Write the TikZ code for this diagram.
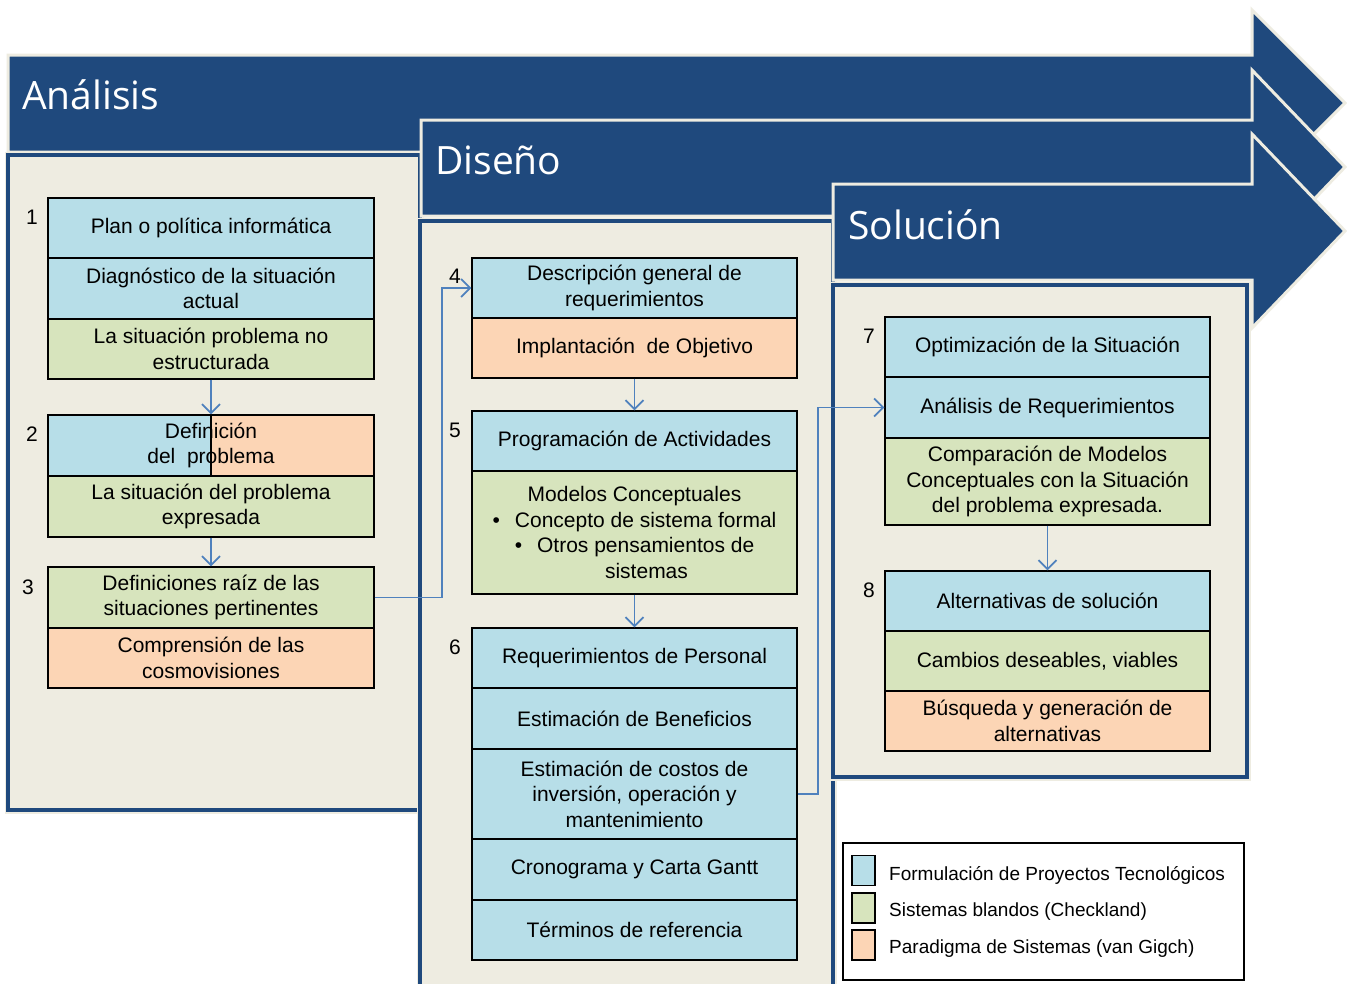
\documentclass[tikz,border=0pt]{standalone}
\usepackage{fontspec}
\setmainfont{Liberation Sans}
\newfontfamily\titlefont{Open Sans}
\usetikzlibrary{arrows.meta}
\definecolor{dblue}{HTML}{1F497D}
\definecolor{cbg}{HTML}{EEECE1}
\definecolor{cblue}{HTML}{B7DEE8}
\definecolor{cgreen}{HTML}{D7E4BD}
\definecolor{corange}{HTML}{FCD5B5}
\definecolor{cline}{HTML}{4F81BD}
\begin{document}
\begin{tikzpicture}[x=1pt,y=-1pt,
 chev/.style={fill=dblue, draw=cbg, line width=3pt, line join=miter},
 panel/.style={fill=cbg, draw=dblue, line width=3.5pt, preaction={draw=cbg, line width=7pt}},
 ttl/.style={anchor=west, inner sep=0, text=white, font=\titlefont\fontsize{39}{46}\selectfont},
 cell/.style={draw=black, line width=1.4pt, inner sep=0, align=center, font=\fontsize{21}{25.5}\selectfont},
 wA/.style={cell, minimum width=326pt},
 wB/.style={cell, minimum width=325pt},
 num/.style={inner sep=0, font=\fontsize{21}{24}\selectfont},
 conn/.style={draw=cline, line width=1.8pt, -{Straight Barb[length=9pt,width=18pt,line width=1.8pt]}},
 leg/.style={anchor=west, inner sep=0, font=\fontsize{19}{22}\selectfont},
 sw/.style={draw=black, line width=1.4pt, minimum width=23pt, minimum height=30pt, inner sep=0}
]
\useasboundingbox (0,0) rectangle (1347,983);
\fill[white] (0,0) rectangle (1347,983);

% phase arrows and panels
\draw[chev] (8,55) -- (1252,55) -- (1252,10) -- (1345,103) -- (1252,196) -- (1252,152) -- (8,152) -- cycle;
\node[ttl] (tA) at (22,95) {Análisis};
\draw[panel] (8,155) rectangle (420,810);

\draw[chev] (421,120) -- (1252,120) -- (1252,70) -- (1345,167) -- (1252,264) -- (1252,216) -- (421,216) -- cycle;
\node[ttl] (tD) at (435,160) {Diseño};
\draw[panel] (420,221) rectangle (833,1000);

\draw[chev] (833,184) -- (1252,184) -- (1252,134) -- (1345,231) -- (1252,328) -- (1252,280) -- (833,280) -- cycle;
\node[ttl] (tS) at (848,225) {Solución};
\draw[panel] (833,285) rectangle (1247,777);

% panel 1
\node[wA, fill=cblue, minimum height=60pt] (b1a) at (211,228) {Plan o política informática};
\node[wA, fill=cblue, minimum height=61pt] (b1b) at (211,288.5) {Diagnóstico de la situación\\actual};
\node[wA, fill=cgreen, minimum height=60pt] (b1c) at (211,349) {La situación problema no\\estructurada};

\fill[cblue] (48,415) rectangle (211,476);
\fill[corange] (211,415) rectangle (374,476);
\node[wA, minimum height=61pt] (b2a) at (211,445.5) {Definición\\del\ \ problema};
\draw[black, line width=1.4pt] (b2a.north) -- (b2a.south);
\node[wA, fill=cgreen, minimum height=61pt] (b2b) at (211,506.5) {La situación del problema\\expresada};

\node[wA, fill=cgreen, minimum height=61pt] (b3a) at (211,597.5) {Definiciones raíz de las\\situaciones pertinentes};
\node[wA, fill=corange, minimum height=60pt] (b3b) at (211,658) {Comprensión de las\\cosmovisiones};

\node[num] (n1) at (32,217) {1};
\node[num] (n2) at (32,434) {2};
\node[num] (n3) at (28,587) {3};

% panel 2
\node[wB, fill=cblue, minimum height=60pt] (b4a) at (634.5,288) {Descripción general de\\requerimientos};
\node[wB, fill=corange, minimum height=60pt] (b4b) at (634.5,348) {Implantación\ \ de Objetivo};
\node[wB, fill=cblue, minimum height=60pt] (b5a) at (634.5,441) {Programación de Actividades};
\node[wB, fill=cgreen, minimum height=123pt] (b5b) at (634.5,532.5) {Modelos Conceptuales\\
 •\hspace{15pt}Concepto de sistema formal\\
 •\hspace{15pt}Otros pensamientos de\\
 \hspace*{24pt}sistemas};
\node[wB, fill=cblue, minimum height=60pt] (b6a) at (634.5,658) {Requerimientos de Personal};
\node[wB, fill=cblue, minimum height=61pt] (b6b) at (634.5,718.5) {Estimación de Beneficios};
\node[wB, fill=cblue, minimum height=90pt] (b6c) at (634.5,794) {Estimación de costos de\\inversión, operación y\\mantenimiento};
\node[wB, fill=cblue, minimum height=61pt] (b6d) at (634.5,869.5) {Cronograma y Carta Gantt};
\node[wB, fill=cblue, minimum height=60pt] (b6e) at (634.5,930) {Términos de referencia};

\node[num] (n4) at (455,276) {4};
\node[num] (n5) at (455,430) {5};
\node[num] (n6) at (455,647) {6};

% panel 3
\node[wB, fill=cblue, minimum height=60pt] (b7a) at (1047.5,347) {Optimización de la Situación};
\node[wB, fill=cblue, minimum height=61pt] (b7b) at (1047.5,407.5) {Análisis de Requerimientos};
\node[wB, fill=cgreen, minimum height=87pt] (b7c) at (1047.5,481.5) {Comparación de Modelos\\Conceptuales con la Situación\\del problema expresada.};
\node[wB, fill=cblue, minimum height=60pt] (b8a) at (1047.5,601) {Alternativas de solución};
\node[wB, fill=cgreen, minimum height=60pt] (b8b) at (1047.5,661) {Cambios deseables, viables};
\node[wB, fill=corange, minimum height=60pt] (b8c) at (1047.5,721) {Búsqueda y generación de\\alternativas};

\node[num] (n7) at (869,336) {7};
\node[num] (n8) at (869,590) {8};

% connectors
\draw[conn] (b1c.south) -- (b2a.north);
\draw[conn] (b2b.south) -- (b3a.north);
\draw[conn] (b3a.east) -- ++(67,0) |- (b4a.west);
\draw[conn] (b4b.south) -- (b5a.north);
\draw[conn] (b5b.south) -- (b6a.north);
\draw[conn] (b6c.east) -- ++(20,0) |- (b7b.west);
\draw[conn] (b7c.south) -- (b8a.north);

% legend
\node[draw=black, fill=white, line width=1.5pt, minimum width=401pt, minimum height=137pt, inner sep=0] (legend) at (1043.5,911.5) {};
\node[sw, fill=cblue] (s1) at (863.5,870.5) {};
\node[sw, fill=cgreen] (s2) at (863.5,908) {};
\node[sw, fill=corange] (s3) at (863.5,945) {};
\node[leg] (l1) at (889,875) {Formulación de Proyectos Tecnológicos};
\node[leg] (l2) at (889,912) {Sistemas blandos (Checkland)};
\node[leg] (l3) at (889,949) {Paradigma de Sistemas (van Gigch)};
\end{tikzpicture}
\end{document}
